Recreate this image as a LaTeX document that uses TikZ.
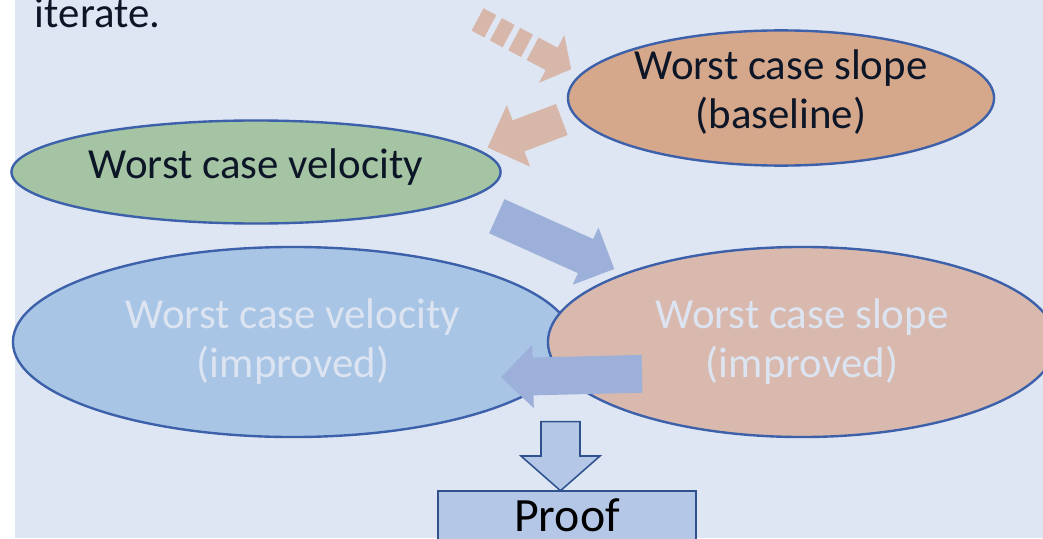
\documentclass[tikz,border=0pt]{standalone}
\usepackage{fontspec}
\setmainfont{Carlito}
\usetikzlibrary{shapes.geometric,positioning}
\definecolor{bgblue}{RGB}{223,230,243}
\definecolor{edgeblue}{RGB}{60,96,170}
\definecolor{slopeorange}{RGB}{213,167,139}
\definecolor{velgreen}{RGB}{164,196,163}
\definecolor{velblue}{RGB}{168,197,229}
\definecolor{slopepink}{RGB}{217,185,173}
\definecolor{arrsalmon}{RGB}{216,183,171}
\definecolor{arrblue}{RGB}{157,176,218}
\definecolor{proofblue}{RGB}{180,199,231}
\definecolor{proofedge}{RGB}{47,82,143}
\definecolor{darktext}{RGB}{13,22,38}
\definecolor{paletext}{RGB}{220,228,241}

\begin{document}
\begin{tikzpicture}[x=0.025cm, y=-0.025cm,
    caseoval/.style={ellipse, draw=edgeblue, line width=1.7pt, inner sep=0pt, align=center},
    bigtext/.style={font=\fontsize{30.5}{34.8}\selectfont},
    pics/blockarrow/.style args={#1/#2/#3/#4}{code={
        \path[pic actions] (0,-#2) -- ({#1-#4},-#2) -- ({#1-#4},-#3) -- (#1,0)
            -- ({#1-#4},#3) -- ({#1-#4},#2) -- (0,#2) -- cycle;
    }},
    pics/stripedarrow/.style args={#1/#2/#3/#4}{code={
        \foreach \s in {0,20.8,41.6}
            \path[pic actions] (\s,-#2) rectangle ({\s+14.5},#2);
        \path[pic actions] (62.4,-#2) -- ({#1-#4},-#2) -- ({#1-#4},-#3) -- (#1,0)
            -- ({#1-#4},#3) -- ({#1-#4},#2) -- (62.4,#2) -- cycle;
    }}]

    \useasboundingbox (0,0) rectangle (1043,538);
    \clip (0,0) rectangle (1043,538);
    \fill[white] (0,0) rectangle (1043,538);
    \fill[bgblue] (15,0) rectangle (1043,538);

    % Improved estimates
    \node[caseoval, bigtext, fill=velblue, text=paletext, minimum width=14cm, minimum height=4.75cm] (velimp) at (293,342) {Worst case velocity\\(improved)};
    \node[caseoval, bigtext, fill=slopepink, text=paletext, minimum width=12.7cm, minimum height=4.75cm] (slopeimp) at (802,342) {Worst case slope\\(improved)};

    % Baseline estimates
    \node[caseoval, bigtext, fill=slopeorange, text=darktext, text depth=12pt, minimum width=10.65cm, minimum height=3.3cm] (slopebase) at (781,98) {Worst case slope\\(baseline)};
    \node[caseoval, bigtext, fill=velgreen, text=darktext, text depth=12pt, minimum width=12.225cm, minimum height=2.575cm] (vel) at (256,172) {Worst case velocity};

    \node[bigtext, text=darktext, anchor=base west] (iter) at (30,28) {iterate.};

    % Block arrows
    \coordinate (tailA) at (477.5,19.5);
    \coordinate (tailB) at (561.8,119.5);
    \coordinate (tailC) at (496.8,216.2);
    \coordinate (tailD) at (642,373.8);
    \coordinate (tailE) at (560.5,421.7);
    \pic[fill=arrsalmon, rotate=-28] (arrA) at (tailA) {stripedarrow=106/12.7/27/22};
    \pic[fill=arrsalmon, rotate=200.7] (arrB) at (tailB) {blockarrow=79.3/16.6/33/33};
    \pic[fill=arrblue, rotate=-24.2] (arrC) at (tailC) {blockarrow=128.8/18.7/31.4/31.5};
    \pic[fill=arrblue, rotate=181.4] (arrD) at (tailD) {blockarrow=141/18.9/31.7/32};
    \pic[fill=proofblue, draw=proofedge, line width=1.1pt, rotate=-90] (arrE) at (tailE) {blockarrow=69/19.5/39.5/34.7};

    % Result
    \node[draw=proofedge, fill=proofblue, line width=1.4pt, minimum width=6.45cm, minimum height=1.225cm,
          inner sep=0pt, font=\fontsize{34}{40}\selectfont, text=black] (proof) at (567,515.5) {Proof};
\end{tikzpicture}
\end{document}
